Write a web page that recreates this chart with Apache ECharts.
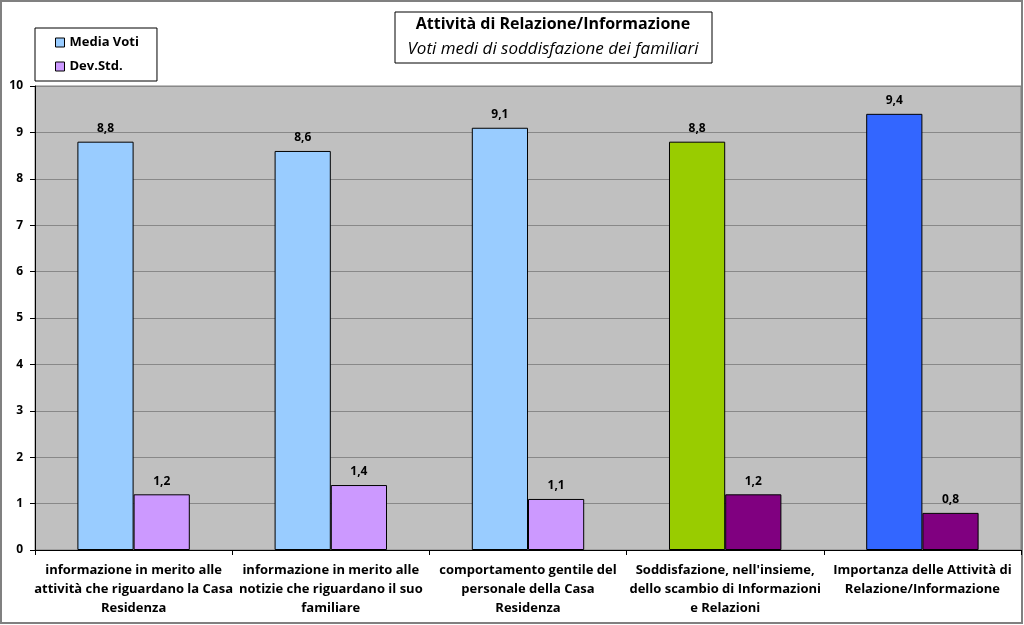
<!DOCTYPE html>
<html><head><meta charset="utf-8">
<script src="https://cdn.jsdelivr.net/npm/echarts@6/dist/echarts.min.js"></script>
<style>html,body{margin:0;padding:0;background:#fff}#c{width:1024px;height:625px}</style>
</head><body><div id="c"></div>
<script>
const categories = [
  "informazione in merito alle\nattività che riguardano la Casa\nResidenza",
  "informazione in merito alle\nnotizie che riguardano il suo\nfamiliare",
  "comportamento gentile del\npersonale della Casa\nResidenza",
  "Soddisfazione, nell'insieme,\ndello scambio di Informazioni\ne Relazioni",
  "Importanza delle Attività di\nRelazione/Informazione"
];
const mediaVoti = [8.8, 8.6, 9.1, 8.8, 9.4];
const devStd = [1.2, 1.4, 1.1, 1.2, 0.8];
const mediaColors = ["#99CCFF", "#99CCFF", "#99CCFF", "#99CC00", "#3366FF"];
const devColors = ["#CC99FF", "#CC99FF", "#CC99FF", "#800080", "#800080"];

const FONT = "'Open Sans', 'DejaVu Sans', sans-serif";
const chart = echarts.init(document.getElementById('c'));
const fmt = p => p.value.toFixed(1).replace('.', ',');
chart.setOption({
  animation: false,
  textStyle: {fontFamily: FONT},
  graphic: [
    {type: 'rect', shape: {x: 1, y: 1, width: 1021, height: 622}, style: {fill: 'none', stroke: '#808080', lineWidth: 2}, z: -1},
    {type: 'rect', shape: {x: 395, y: 12, width: 317, height: 51}, style: {fill: '#fff', stroke: '#000', lineWidth: 1}},
    {type: 'text', x: 553, y: 24, style: {text: 'Attività di Relazione/Informazione', font: "bold 16px 'Open Sans', sans-serif", fill: '#000', align: 'center', verticalAlign: 'middle'}},
    {type: 'text', x: 553, y: 49, style: {text: 'Voti medi di soddisfazione dei familiari', font: "italic 17px 'Open Sans', sans-serif", fill: '#000', align: 'center', verticalAlign: 'middle'}}
  ],
  legend: {
    orient: 'vertical', left: 35, top: 28,
    padding: [8, 18, 8, 20], itemGap: 11,
    borderColor: '#000', borderWidth: 1, backgroundColor: '#fff',
    itemWidth: 9, itemHeight: 9, icon: 'rect',
    textStyle: {fontWeight: 'bold', fontSize: 13, color: '#000'},
    data: [
      {name: 'Media Voti', itemStyle: {color: '#99CCFF', borderColor: '#000', borderWidth: 1}},
      {name: 'Dev.Std.', itemStyle: {color: '#CC99FF', borderColor: '#000', borderWidth: 1}}
    ]
  },
  grid: {left: 35, right: 3, top: 86, bottom: 75, show: true, backgroundColor: '#C0C0C0', borderColor: '#808080', borderWidth: 1, containLabel: false},
  xAxis: {
    type: 'category', data: categories,
    axisLine: {lineStyle: {color: '#000'}},
    axisTick: {show: true, length: 5, lineStyle: {color: '#000'}},
    axisLabel: {interval: 0, fontWeight: 'bold', fontSize: 13, color: '#000', lineHeight: 19, margin: 11}
  },
  yAxis: {
    type: 'value', min: 0, max: 10, interval: 1,
    axisLine: {show: true, lineStyle: {color: '#000'}},
    axisTick: {show: true, length: 5, lineStyle: {color: '#000'}},
    axisLabel: {fontWeight: 'bold', fontSize: 12, color: '#000', margin: 12},
    splitLine: {lineStyle: {color: '#888', width: 1}}
  },
  series: [
    {name: 'Media Voti', type: 'bar', barGap: '0%', barCategoryGap: '43%',
     itemStyle: {color: '#99CCFF', borderColor: '#000', borderWidth: 1},
     label: {show: true, position: 'top', formatter: fmt, fontWeight: 'bold', fontSize: 12, color: '#000', distance: 7},
     data: mediaVoti.map((v, i) => ({value: v, itemStyle: {color: mediaColors[i]}}))},
    {name: 'Dev.Std.', type: 'bar',
     itemStyle: {color: '#CC99FF', borderColor: '#000', borderWidth: 1},
     label: {show: true, position: 'top', formatter: fmt, fontWeight: 'bold', fontSize: 12, color: '#000', distance: 7},
     data: devStd.map((v, i) => ({value: v, itemStyle: {color: devColors[i]}}))}
  ]
});
</script></body></html>
